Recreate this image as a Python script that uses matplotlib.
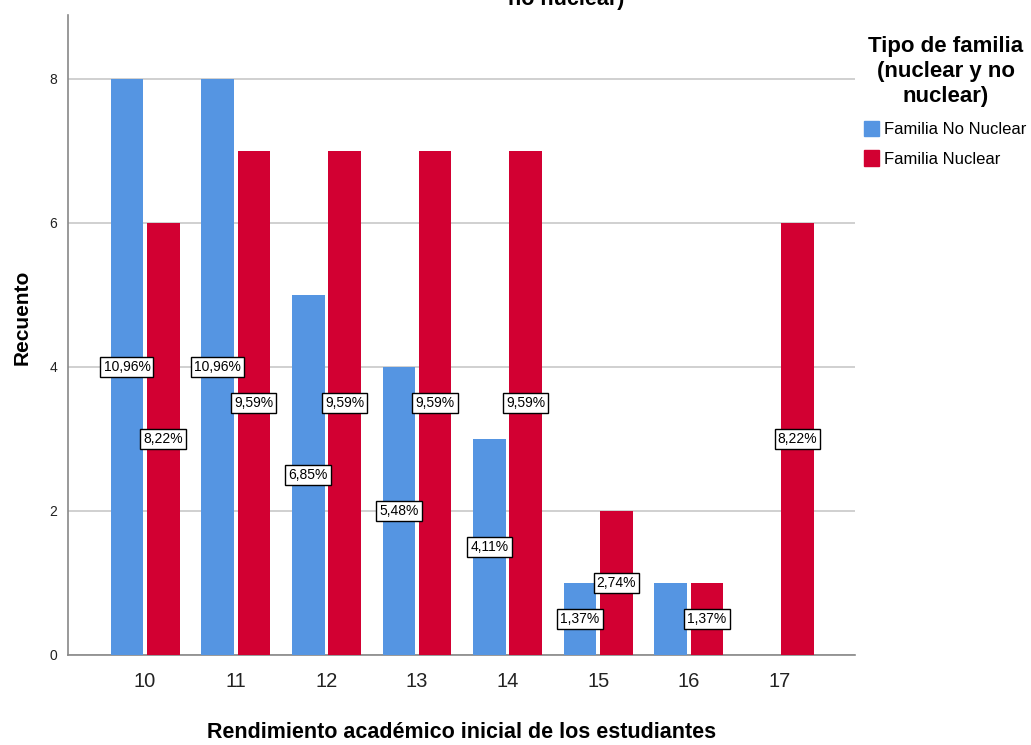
import matplotlib
matplotlib.use("Agg")
import matplotlib.pyplot as plt
from matplotlib.patches import Patch
import numpy as np

categories = ["10", "11", "12", "13", "14", "15", "16", "17"]
no_nuclear = [8, 8, 5, 4, 3, 1, 1, 0]
nuclear = [6, 7, 7, 7, 7, 2, 1, 6]
no_nuclear_pct = ["10,96%", "10,96%", "6,85%", "5,48%", "4,11%", "1,37%", "", ""]
nuclear_pct = ["8,22%", "9,59%", "9,59%", "9,59%", "9,59%", "2,74%", "1,37%", "8,22%"]
series_names = ["Familia No Nuclear", "Familia Nuclear"]
legend_title = "Tipo de familia\n(nuclear y no\nnuclear)"
xlabel = "Rendimiento académico inicial de los estudiantes"
ylabel = "Recuento"
title = "no nuclear)"

blue = "#5595E2"
red = "#D20032"
sans = ["Liberation Sans", "DejaVu Sans"]

fig = plt.figure(figsize=(10.31, 7.45), dpi=100)
ax = fig.add_axes([0.066, 0.121, 0.763, 0.859])

x = np.arange(len(categories))
w = 0.36
off = 0.2
ax.bar(x - off, no_nuclear, w, color=blue, zorder=3)
ax.bar(x + off, nuclear, w, color=red, zorder=3)

box = dict(boxstyle="square,pad=0.22", fc="white", ec="black", lw=1)
for i in range(len(categories)):
    if no_nuclear_pct[i]:
        ax.text(x[i] - off, no_nuclear[i] / 2, no_nuclear_pct[i], ha="center", va="center",
                fontsize=10, family=sans, bbox=box, zorder=5)
    if nuclear_pct[i]:
        ax.text(x[i] + off, nuclear[i] / 2, nuclear_pct[i], ha="center", va="center",
                fontsize=10, family=sans, bbox=box, zorder=5)

ax.set_xlim(-0.85, 7.83)
ax.set_ylim(0, 8.89)
ax.set_yticks([0, 2, 4, 6, 8])
ax.set_xticks(x)
ax.set_xticklabels(categories, fontsize=14.5, family=sans, color="#222222")
for t in ax.get_yticklabels():
    t.set_fontsize(10)
    t.set_family(sans)
    t.set_color("#222222")
ax.tick_params(axis="x", length=0, pad=12)
ax.tick_params(axis="y", length=0, pad=8)
ax.yaxis.grid(True, color="#c8c8c8", lw=1.2, zorder=0)
ax.set_axisbelow(True)
for s in ["top", "right"]:
    ax.spines[s].set_visible(False)
for s in ["left", "bottom"]:
    ax.spines[s].set_color("#888888")
    ax.spines[s].set_linewidth(1.2)

ax.set_xlabel(xlabel, fontsize=15.5, fontweight="bold", family=sans, va="center")
ax.xaxis.set_label_coords(0.5, -0.122)
ax.set_ylabel(ylabel, fontsize=15, fontweight="bold", family=sans, va="center")
ax.yaxis.set_label_coords(-0.058, 0.527)

fig.text(566 / 1031, 1 - 4.5 / 745, title, ha="center", va="baseline", fontsize=15.5,
         fontweight="bold", family=sans)

handles = [Patch(color=blue), Patch(color=red)]
leg = fig.legend(handles, series_names, title=legend_title, loc="upper left",
                 bbox_to_anchor=(856 / 1031, 1 - 28 / 745), frameon=False, borderpad=0,
                 prop={"family": sans, "size": 12}, handlelength=0.9,
                 handleheight=1.05, handletextpad=0.3, labelspacing=0.8)
leg.get_title().set_fontweight("bold")
leg.get_title().set_fontsize(16)
leg.get_title().set_family(sans)
leg.get_title().set_multialignment("center")
leg.get_title().set_linespacing(1.25)

fig.savefig("out.png", dpi=100)
